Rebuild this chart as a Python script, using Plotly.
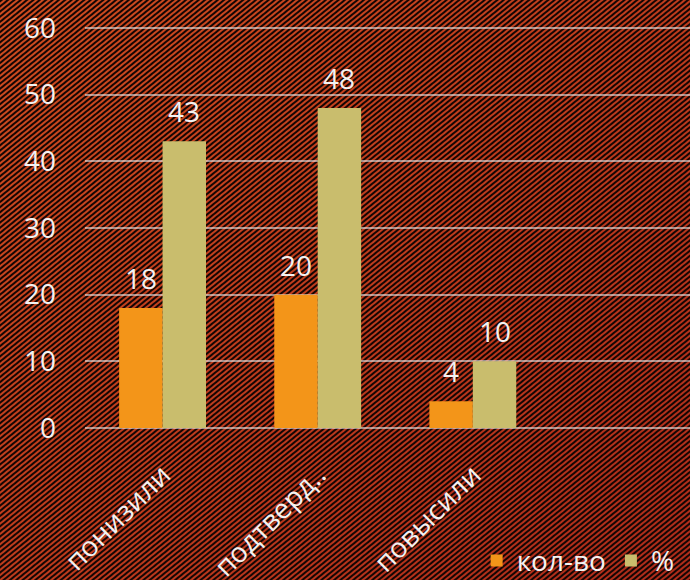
import base64
import plotly.graph_objects as go

categories = ["понизили", "подтверд..", "повысили"]
count_vals = [18, 20, 4]
pct_vals = [43, 48, 10]
series_names = ["кол-во", "%"]
y_ticks = [0, 10, 20, 30, 40, 50, 60]

# striped dark-red background drawn as an svg image
bg_svg = """<svg xmlns='http://www.w3.org/2000/svg' width='690' height='580'>
<defs>
<linearGradient id='g' x1='0' y1='0' x2='1' y2='1'>
<stop offset='0' stop-color='#cf4c1f'/>
<stop offset='1' stop-color='#ae2b1a'/>
</linearGradient>
<pattern id='p' patternUnits='userSpaceOnUse' width='4.0' height='10' patternTransform='rotate(51)'>
<rect x='0' y='0' width='1.7' height='10' fill='#140604' shape-rendering='crispEdges'/>
</pattern>
</defs>
<rect width='690' height='580' fill='url(#g)'/>
<rect width='690' height='580' fill='url(#p)'/>
</svg>"""
bg_uri = "data:image/svg+xml;base64," + base64.b64encode(bg_svg.encode()).decode()

font_name = "Open Sans"
txt_col = "#f2f2f2"
bar_cols = ["#f39519", "#c9bd6d"]

fig = go.Figure()
for name, vals, col in zip(series_names, [count_vals, pct_vals], bar_cols):
    fig.add_trace(go.Bar(x=categories, y=vals, name=name,
                         marker=dict(color=col, line=dict(width=0))))

# value labels a bit higher above the bars than plotly's own outside text
annots = []
for off, vals in [(-0.14, count_vals), (0.14, pct_vals)]:
    for i, v in enumerate(vals):
        annots.append(dict(x=i + off, y=v, xref="x", yref="y", text=str(v),
                           showarrow=False, yanchor="middle", yshift=30,
                           font=dict(size=28, color=txt_col, family=font_name)))

fig.update_layout(
    width=690, height=580,
    margin=dict(l=0, r=0, t=0, b=0, autoexpand=False),
    paper_bgcolor="#b23418", plot_bgcolor="rgba(0,0,0,0)",
    barmode="group", bargap=0.44, bargroupgap=0,
    font=dict(family=font_name, color=txt_col),
    annotations=annots,
    images=[dict(source=bg_uri, xref="paper", yref="paper", x=0, y=1,
                 sizex=1, sizey=1, sizing="stretch", layer="below",
                 xanchor="left", yanchor="top")],
    legend=dict(orientation="h", x=0.985, xanchor="right", y=-0.01, yanchor="bottom",
                bgcolor="rgba(0,0,0,0)", font=dict(size=28, color=txt_col),
                itemwidth=30, traceorder="normal"),
)
fig.update_xaxes(domain=[85 / 690, 1], range=[-0.5, 3.4], showgrid=False,
                 tickangle=-45, ticklabelstandoff=24, showline=False, automargin=False,
                 tickfont=dict(size=28, color=txt_col))
fig.update_yaxes(domain=[152 / 580, 560 / 580], range=[0, 61.2], tickvals=y_ticks,
                 showgrid=True, gridcolor="rgba(235,235,235,0.6)", gridwidth=2,
                 zeroline=True, zerolinecolor="rgba(235,235,235,0.6)", zerolinewidth=2,
                 automargin=False, ticklabelstandoff=28,
                 tickfont=dict(size=28, color=txt_col))

fig.write_html("out.html", config={"displayModeBar": False},
               post_script="document.body.style.margin='0';")
